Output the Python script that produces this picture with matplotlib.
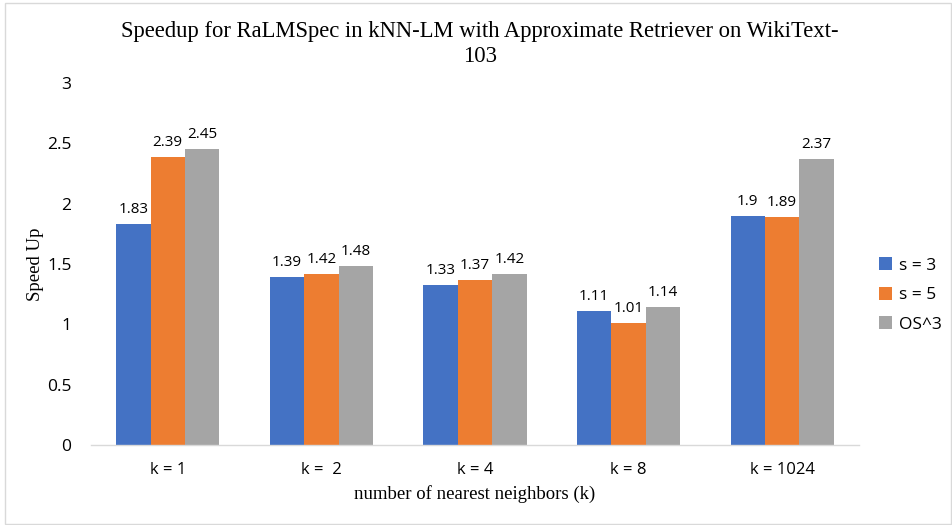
import matplotlib
matplotlib.use("Agg")
import matplotlib.pyplot as plt
from matplotlib.patches import Rectangle
import numpy as np

categories = ["k = 1", "k =  2", "k = 4", "k = 8", "k = 1024"]
series_names = ["s = 3", "s = 5", "OS^3"]
s3 = [1.83, 1.39, 1.33, 1.11, 1.9]
s5 = [2.39, 1.42, 1.37, 1.01, 1.89]
os3 = [2.45, 1.48, 1.42, 1.14, 2.37]
colors = ["#4472C4", "#ED7D31", "#A5A5A5"]
yticks = [0, 0.5, 1, 1.5, 2, 2.5, 3]

sans = ["Open Sans", "DejaVu Sans"]
serif = ["Liberation Serif", "DejaVu Serif"]

fig = plt.figure(figsize=(9.53, 5.25), dpi=100)
ax = fig.add_axes([91/953, 1-445/525, 768/953, (445-83)/525])

x = np.arange(len(categories))
w = 0.224
for i, (vals, name, c) in enumerate(zip([s3, s5, os3], series_names, colors)):
    pos = x + (i - 1) * w
    ax.bar(pos, vals, width=w, color=c, label=name)
    for p, v in zip(pos, vals):
        ax.annotate(f"{v:g}", (p, v), xytext=(0, 5), textcoords="offset points",
                    ha="center", va="bottom", fontsize=11, family=sans, color="#000000")

ax.set_xlim(-0.5, len(categories) - 0.5)
ax.set_ylim(0, 3)
ax.set_yticks(yticks)
ax.set_yticklabels([f"{t:g}" for t in yticks], family=sans, fontsize=12.5)
ax.set_xticks(x)
ax.set_xticklabels(categories, family=sans, fontsize=12)
ax.tick_params(length=0, pad=12)
ax.tick_params(axis="y", pad=14)
for s in ["top", "right", "left"]:
    ax.spines[s].set_visible(False)
ax.spines["bottom"].set_color("#D9D9D9")
ax.spines["bottom"].set_linewidth(1)

ax.set_ylabel("Speed Up", family=serif, fontsize=13.5, labelpad=2)
ax.set_xlabel("number of nearest neighbors (k)", family=serif, fontsize=13.5, labelpad=5)

fig.text(480/953, 1 - 44/525,
         "Speedup for RaLMSpec in kNN-LM with Approximate Retriever on WikiText-\n103",
         ha="center", va="center", family=serif, fontsize=16.3, linespacing=1.25)

fig.legend(loc="center left", bbox_to_anchor=(872/953, 1 - 295/525), frameon=False,
           prop={"family": sans, "size": 12.5}, handlelength=0.75, handleheight=0.75,
           labelspacing=0.75, handletextpad=0.4, borderaxespad=0)

fig.patches.append(Rectangle((5/953, 1/525), 946/953, 521/525, transform=fig.transFigure,
                             fill=False, edgecolor="#D9D9D9", linewidth=1))

fig.savefig("out.png", dpi=100)
